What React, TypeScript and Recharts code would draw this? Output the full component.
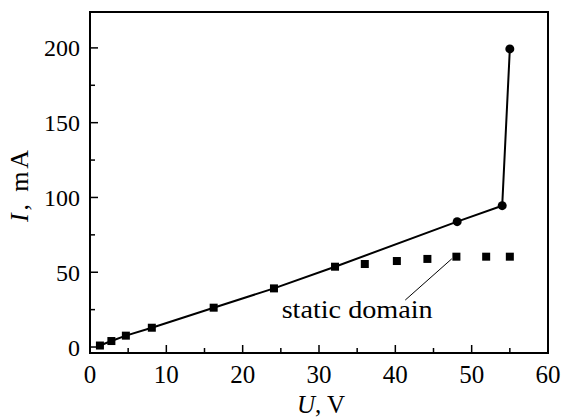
import { ComposedChart, Line, Scatter, XAxis, YAxis, ReferenceArea, ReferenceLine, ReferenceDot, Label } from "recharts";

// main curve: U (V) and I (mA), markers per point
const uMain = [1.3, 2.8, 4.7, 8.1, 16.2, 24.1, 32.1, 48.1, 54, 55];
const iMain = [1, 4, 7.6, 12.9, 26.3, 39.2, 53.7, 83.8, 94.5, 199.3];
const markers = ["square", "square", "square", "square", "square", "square", "square", "circle", "circle", "circle"];

// static domain points (no line)
const uStatic = [36, 40.2, 44.2, 48, 51.9, 55];
const iStatic = [55.5, 57.5, 58.9, 60.4, 60.4, 60.4];

const xTicks = [0, 5, 10, 15, 20, 25, 30, 35, 40, 45, 50, 55, 60];
const yTicks = [0, 25, 50, 75, 100, 125, 150, 175, 200];

const FONT = "'Liberation Serif', 'DejaVu Serif', serif";
const txt = { fontFamily: FONT };

const mainData = uMain.map((u, i) => ({ u, i: iMain[i], m: markers[i] }));
const staticData = uStatic.map((u, i) => ({ u, i: iStatic[i] }));

function XTick({ x, y, payload }: any) {
  const axisY = y - 4;
  const major = payload.value % 10 === 0;
  return (
    <g>
      <line x1={x} y1={axisY} x2={x} y2={axisY - (major ? 8 : 5)} stroke="#000" strokeWidth={1.5} />
      {major && (
        <text x={x} y={axisY + 30} textAnchor="middle" fontSize={25} style={txt} fill="#000">
          {payload.value}
        </text>
      )}
    </g>
  );
}

function YTick({ x, y, payload }: any) {
  const axisX = x + 4;
  const major = payload.value % 50 === 0;
  return (
    <g>
      <line x1={axisX} y1={y} x2={axisX + (major ? 8 : 5)} y2={y} stroke="#000" strokeWidth={1.5} />
      {major && (
        <text x={axisX - 10} y={y + 8.5} textAnchor="end" fontSize={24} style={txt} fill="#000">
          {payload.value}
        </text>
      )}
    </g>
  );
}

function MainDot(props: any) {
  const { cx, cy, payload, index } = props;
  if (payload.m === "circle") {
    return <circle key={index} cx={cx} cy={cy} r={4.5} fill="#000" />;
  }
  return <rect key={index} x={cx - 4} y={cy - 4} width={8} height={8} fill="#000" />;
}

export default function App() {
  return (
    <div style={{ position: "absolute", left: 0, top: 0, background: "#fff", fontFamily: FONT }}>
      <ComposedChart width={561} height={419} margin={{ top: 12, right: 13, bottom: 0, left: 0 }}>
        <XAxis
          dataKey="u"
          type="number"
          domain={[0, 60]}
          ticks={xTicks}
          tick={<XTick />}
          tickSize={0}
          tickMargin={4}
          axisLine={false}
          tickLine={false}
          height={66}
          allowDataOverflow
        >
          <Label
            content={({ viewBox }: any) => (
              <text x={viewBox.x + 231} y={viewBox.y + 60} textAnchor="middle" fontSize={25} style={txt} fill="#000">
                <tspan fontStyle="italic">U</tspan>, V
              </text>
            )}
          />
        </XAxis>
        <YAxis
          type="number"
          domain={[-4, 224]}
          ticks={yTicks}
          tick={<YTick />}
          tickSize={0}
          tickMargin={4}
          axisLine={false}
          tickLine={false}
          width={90}
          allowDataOverflow
        >
          <Label
            content={({ viewBox }: any) => {
              const cx = viewBox.x + 27.5;
              const cy = 186;
              return (
                <text x={cx} y={cy} transform={`rotate(-90 ${cx} ${cy})`} textAnchor="middle" fontSize={26} style={txt} fill="#000" textLength={72} lengthAdjust="spacing">
                  <tspan fontStyle="italic">I</tspan>, mA
                </text>
              );
            }}
          />
        </YAxis>
        <ReferenceArea x1={0} x2={60} y1={-4} y2={224} fill="none" stroke="#000" strokeWidth={2} />
        <ReferenceLine segment={[{ x: 41.3, y: 31.4 }, { x: 47.4, y: 59 }]} stroke="#000" strokeWidth={1} />
        <ReferenceDot
          x={35}
          y={19.4}
          r={0}
          fill="none"
          stroke="none"
          label={{
            content: ({ viewBox }: any) => (
              <text x={viewBox.x + viewBox.width / 2} y={viewBox.y + viewBox.height / 2} textAnchor="middle" fontSize={26} style={txt} fill="#000" textLength={151} lengthAdjust="spacingAndGlyphs">
                static domain
              </text>
            ),
          }}
        />
        <Line
          data={mainData}
          dataKey="i"
          type="linear"
          stroke="#000"
          strokeWidth={2}
          dot={MainDot}
          activeDot={false}
          isAnimationActive={false}
        />
        <Scatter
          data={staticData}
          dataKey="i"
          fill="#000"
          shape={(p: any) => <rect x={p.cx - 4} y={p.cy - 4} width={8} height={8} fill="#000" />}
          isAnimationActive={false}
        />
      </ComposedChart>
    </div>
  );
}
